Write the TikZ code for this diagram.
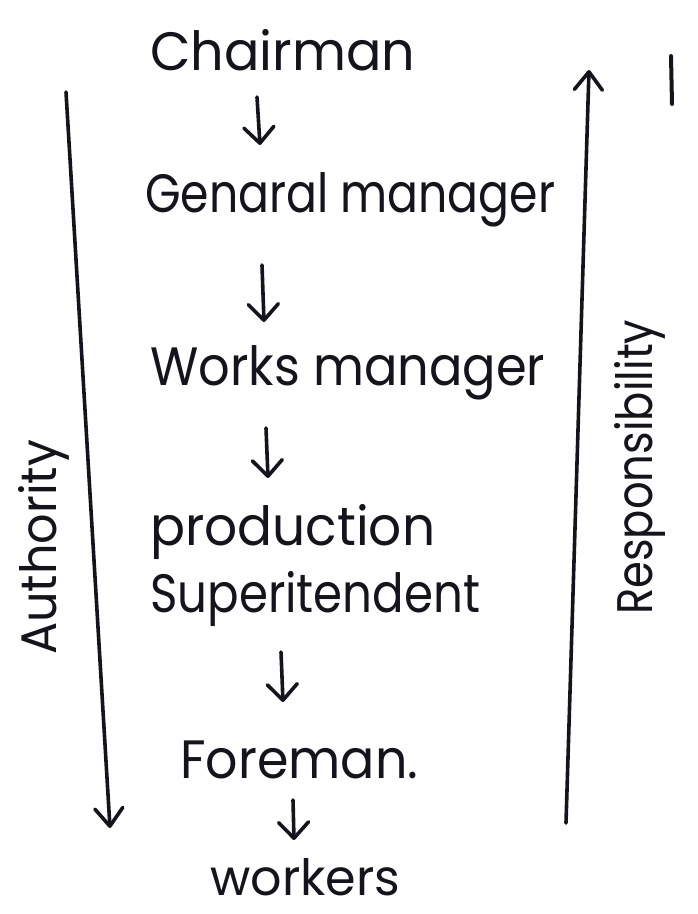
\documentclass[tikz,border=0pt]{standalone}
\usepackage{fontspec}
\setmainfont{Poppins}
\usepackage{graphicx}
\usetikzlibrary{arrows.meta}
\definecolor{ink}{HTML}{15141C}
% squeeze or stretch a word to a given width, keeping its height
\newcommand{\fitw}[2]{\resizebox{#1}{\height}{#2}}
\tikzset{
  lbl/.style={anchor=base west, inner sep=0pt, text=ink, font=\fontsize{54}{60}\selectfont},
  side/.style={anchor=base west, inner sep=0pt, text=ink, rotate=90, font=\fontsize{50}{56}\selectfont},
  down/.style={draw=ink, line width=3.6pt, line cap=round,
    -{Straight Barb[length=16pt,width=30pt,round]}},
  pole/.style={draw=ink, line width=3.6pt, line cap=round},
  polehead/.style={-{Straight Barb[length=18pt,width=28pt,round]}},
}
\begin{document}
\begin{tikzpicture}[x=1pt,y=-1pt]
  \fill[white] (0,0) rectangle (697,914);
  \useasboundingbox (0,0) rectangle (697,914);

  % chain of command
  \node[lbl] (chair) at (150,70)  {\fitw{265pt}{Chairman}};
  \node[lbl] (gm)    at (145,212) {\fitw{410pt}{Genaral manager}};
  \node[lbl] (works) at (150,385) {\fitw{395pt}{Works manager}};
  \node[lbl] (prod)  at (150,545) {\fitw{285pt}{production}};
  \node[lbl] (sup)   at (150,612) {\fitw{330pt}{Superitendent}};
  \node[lbl] (fore)  at (180,778) {\fitw{238pt}{Foreman.}};
  \node[lbl,font=\fontsize{50}{56}\selectfont] (work) at (210,895) {\fitw{190pt}{workers}};

  \draw[down] ([shift={(107,27)}]chair.base west) -- ([shift={(115,-67)}]gm.base west);
  \draw[down] ([shift={(117,53)}]gm.base west)    -- ([shift={(114,-63)}]works.base west);
  \draw[down] ([shift={(116,43)}]works.base west) -- ([shift={(118,-67)}]prod.base west);
  \draw[down] ([shift={(131,40)}]sup.base west)   -- ([shift={(103,-76)}]fore.base west);
  \draw[down] ([shift={(113,22)}]fore.base west)  -- ([shift={(84,-55)}]work.base west);

  % authority flows down, responsibility flows up
  \coordinate (authTop) at (66,92);
  \coordinate (authEnd) at (110,828);
  \coordinate (respLow) at (566,823);
  \coordinate (respEnd) at (589,70);
  \draw[pole,polehead] (authTop) -- (authEnd);
  \draw[pole,polehead] (respLow) -- (respEnd);
  \node[side] (auth) at (56,655)  {\fitw{215pt}{Authority}};
  \node[side] (resp) at (652,615) {\fitw{295pt}{Responsibility}};

  % short stroke at the top right
  \coordinate (tickA) at (671,56);
  \coordinate (tickB) at (672,104);
  \draw[pole,line width=4pt] (tickA) -- (tickB);
\end{tikzpicture}
\end{document}
